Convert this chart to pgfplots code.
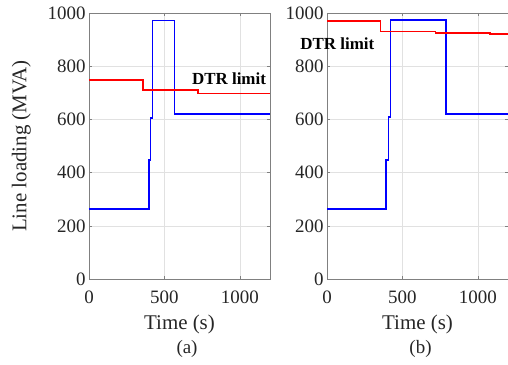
\documentclass[border=0pt]{standalone}
\usepackage{pgfplots}
\pgfplotsset{compat=1.18}
\usepackage{fontspec}
\setmainfont{Liberation Serif}
\definecolor{axgray}{RGB}{128,128,128}
\definecolor{gridgray}{RGB}{225,225,225}
\pgfplotsset{
  myax/.style={
    scale only axis, width=181bp, height=266bp,
    xmin=0, xmax=1200, ymin=0, ymax=1000,
    xtick={0,500,1000}, ytick={0,200,400,600,800,1000},
    grid=major, major grid style={gridgray, line width=0.5pt},
    axis line style={axgray, line width=0.6pt},
    tick style={axgray, line width=0.6pt},
    tick align=inside, major tick length=3bp,
    xtick pos=both, ytick pos=both,
    /pgf/number format/assume math mode=true,
    /pgf/number format/1000 sep={},
    ticklabel style={font=\fontsize{19}{22}\selectfont, text=black!85},
    xticklabel style={yshift=-8bp},
    label style={font=\fontsize{21}{24}\selectfont, text=black!85},
    xlabel={Time (s)},
    xlabel style={yshift=-5bp},
    ylabel style={yshift=10bp},
    clip=false,
  }
}
\begin{document}
\begin{tikzpicture}
\begin{axis}[myax, at={(0,0)}, ylabel={Line loading (MVA)}]
\addplot[blue, line width=1.7pt] coordinates {(0,262) (400,262) (400,447) (408,447) (408,605) (420,605) (420,972) (567,972) (567,619) (1200,619)};
\addplot[red, line width=1.7pt] coordinates {(0,748) (360,748) (360,711) (722,711) (722,697) (1200,697)};
\node[font=\bfseries\fontsize{17}{20}\selectfont, anchor=west] at (axis cs:660,752) {DTR limit};
\node[font=\fontsize{19}{22}\selectfont, text=black!85] at (axis cs:650,-262) {(a)};
\end{axis}
\begin{axis}[myax, at={(238bp,0)}]
\addplot[blue, line width=1.7pt] coordinates {(0,262) (393,262) (393,447) (408,447) (408,608) (420,608) (420,974) (787,974) (787,620) (1200,620)};
\addplot[red, line width=1.7pt] coordinates {(0,971) (355,971) (355,931) (720,931) (720,926) (1082,926) (1082,922) (1200,922)};
\node[font=\bfseries\fontsize{17}{20}\selectfont, anchor=west] at (axis cs:-200,885) {DTR limit};
\node[font=\fontsize{19}{22}\selectfont, text=black!85] at (axis cs:620,-262) {(b)};
\end{axis}
\pgfresetboundingbox
\path[use as bounding box] (-89bp,-86bp) rectangle (419bp,279bp);
\end{tikzpicture}
\end{document}
